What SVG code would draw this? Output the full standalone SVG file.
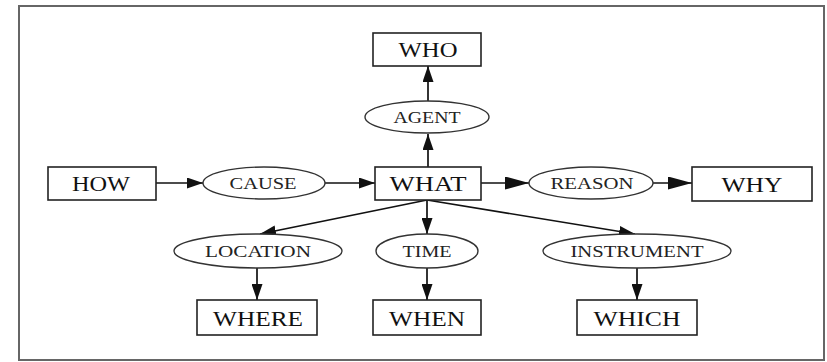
<svg xmlns="http://www.w3.org/2000/svg" width="827" height="362" viewBox="0 0 827 362">
  <style>
    .box { fill: #fff; stroke: #222; stroke-width: 1.6; }
    .oval { fill: #fff; stroke: #333; stroke-width: 1.4; }
    .edge { stroke: #111; stroke-width: 1.7; fill: none; }
    .big { font-family: "Liberation Serif", "Times New Roman", serif; font-size: 22px; fill: #111; text-anchor: middle; }
    .small { font-family: "Liberation Serif", "Times New Roman", serif; font-size: 17px; fill: #222; text-anchor: middle; }
  </style>
  <defs>
    <marker id="head" markerUnits="userSpaceOnUse" markerWidth="16" markerHeight="11" refX="16" refY="5.5" orient="auto">
      <path d="M0,0 L16,5.5 L0,11 z" fill="#111"/>
    </marker>
    <marker id="headBig" markerUnits="userSpaceOnUse" markerWidth="24" markerHeight="13" refX="24" refY="6.5" orient="auto">
      <path d="M0,0 L24,6.5 L0,13 z" fill="#111"/>
    </marker>
  </defs>

  <!-- outer frame -->
  <rect x="19" y="6" width="805" height="354" fill="#fff" stroke="#666" stroke-width="2"/>

  <!-- connectors -->
  <g id="edges">
    <line class="edge" x1="428" y1="167" x2="428" y2="134" marker-end="url(#head)"/>
    <line class="edge" x1="428" y1="101" x2="428" y2="66" marker-end="url(#head)"/>
    <line class="edge" x1="156" y1="183" x2="203" y2="183" marker-end="url(#head)"/>
    <line class="edge" x1="325" y1="183" x2="375" y2="183" marker-end="url(#head)"/>
    <line class="edge" x1="481" y1="183" x2="529" y2="183" marker-end="url(#headBig)"/>
    <line class="edge" x1="653" y1="183" x2="692" y2="183" marker-end="url(#headBig)"/>
    <line class="edge" x1="427" y1="200" x2="260" y2="234" marker-end="url(#head)"/>
    <line class="edge" x1="427" y1="200" x2="427" y2="234" marker-end="url(#head)"/>
    <line class="edge" x1="427" y1="200" x2="635" y2="234" marker-end="url(#head)"/>
    <line class="edge" x1="257" y1="268" x2="257" y2="300" marker-end="url(#head)"/>
    <line class="edge" x1="427" y1="268" x2="427" y2="300" marker-end="url(#head)"/>
    <line class="edge" x1="637" y1="268" x2="637" y2="300" marker-end="url(#head)"/>
  </g>

  <!-- rectangles -->
  <g id="who">
    <rect class="box" x="373" y="33" width="108" height="33"/>
    <text class="big" x="428" y="57" textLength="59" lengthAdjust="spacingAndGlyphs">WHO</text>
  </g>
  <g id="what">
    <rect class="box" x="375" y="167" width="106" height="33"/>
    <text class="big" x="428" y="191" textLength="77" lengthAdjust="spacingAndGlyphs">WHAT</text>
  </g>
  <g id="how">
    <rect class="box" x="48" y="167" width="108" height="33"/>
    <text class="big" x="101" y="191" textLength="58" lengthAdjust="spacingAndGlyphs">HOW</text>
  </g>
  <g id="why">
    <rect class="box" x="692" y="167" width="120" height="34"/>
    <text class="big" x="752" y="192" textLength="61" lengthAdjust="spacingAndGlyphs">WHY</text>
  </g>
  <g id="where">
    <rect class="box" x="197" y="300" width="120" height="35"/>
    <text class="big" x="258" y="326" textLength="90" lengthAdjust="spacingAndGlyphs">WHERE</text>
  </g>
  <g id="when">
    <rect class="box" x="373" y="300" width="108" height="35"/>
    <text class="big" x="427" y="326" textLength="76" lengthAdjust="spacingAndGlyphs">WHEN</text>
  </g>
  <g id="which">
    <rect class="box" x="577" y="300" width="120" height="35"/>
    <text class="big" x="637" y="326" textLength="87" lengthAdjust="spacingAndGlyphs">WHICH</text>
  </g>

  <!-- ellipses -->
  <g id="agent">
    <ellipse class="oval" cx="427" cy="117" rx="62" ry="16"/>
    <text class="small" x="427" y="123" textLength="67" lengthAdjust="spacingAndGlyphs">AGENT</text>
  </g>
  <g id="cause">
    <ellipse class="oval" cx="264" cy="183" rx="61" ry="16"/>
    <text class="small" x="263" y="189" textLength="67" lengthAdjust="spacingAndGlyphs">CAUSE</text>
  </g>
  <g id="reason">
    <ellipse class="oval" cx="591" cy="183" rx="62" ry="16"/>
    <text class="small" x="592" y="189" textLength="83" lengthAdjust="spacingAndGlyphs">REASON</text>
  </g>
  <g id="location">
    <ellipse class="oval" cx="258" cy="251" rx="84" ry="17"/>
    <text class="small" x="258" y="257" textLength="106" lengthAdjust="spacingAndGlyphs">LOCATION</text>
  </g>
  <g id="time">
    <ellipse class="oval" cx="427" cy="251" rx="51" ry="17"/>
    <text class="small" x="427" y="257" textLength="49" lengthAdjust="spacingAndGlyphs">TIME</text>
  </g>
  <g id="instrument">
    <ellipse class="oval" cx="637" cy="251" rx="94" ry="17"/>
    <text class="small" x="637" y="257" textLength="133" lengthAdjust="spacingAndGlyphs">INSTRUMENT</text>
  </g>
</svg>
